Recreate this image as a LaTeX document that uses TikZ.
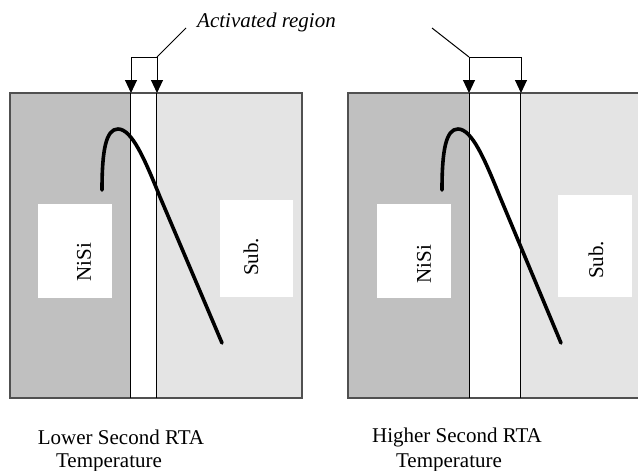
\documentclass[tikz,border=0pt]{standalone}
\usepackage{fontspec}
\setmainfont{Liberation Serif}
\usetikzlibrary{arrows.meta}
\definecolor{nisi}{HTML}{C0C0C0}
\definecolor{sub}{HTML}{E4E4E4}
\definecolor{frame}{HTML}{505050}

\begin{document}
\begin{tikzpicture}[x=1pt,y=-1pt,
    lbl/.style={font=\fontsize{21}{23}\selectfont,inner sep=0pt},
    wbox/.style={fill=white,draw=none,inner sep=0pt},
    pin/.style={line width=1pt,-{Triangle[width=12pt,length=13pt]}},
    profile/.style={line width=3.6pt,line cap=round}]
  \useasboundingbox (0,0) rectangle (638,471);

  % left panel
  \fill[nisi] (10,93) rectangle (130,398);
  \fill[sub] (156,93) rectangle (302,398);
  \draw[frame,line width=1.5pt] (10,93) rectangle (302,398);
  \draw[line width=0.8pt] (130,93) -- (130,398);
  \draw[line width=0.8pt] (156,93) -- (156,398);

  \path
  (75,251) node[wbox,minimum width=74pt,minimum height=94pt](nisiboxl) {}
  (256.5,248.5) node[wbox,minimum width=73pt,minimum height=97pt](subboxl) {}
  (84,262) node[lbl,rotate=90](nisil) {NiSi}
  (251,257) node[lbl,rotate=90](subl) {Sub.}
  ;

  \draw[profile] (102,190) .. controls (102,150) and (106,129) .. (118,129)
    .. controls (132,129) and (145,160) .. (160,197) -- (222,343);

  \coordinate (al) at (131,57);
  \coordinate (bl) at (157,57);
  \coordinate (tl) at (186,28);
  \draw[pin] (bl) -- (al) -- (131,93);
  \draw[pin] (bl) -- (157,93);
  \draw[line width=1pt] (bl) -- (tl);
  \node[lbl,font=\fontsize{21}{23}\selectfont\itshape,anchor=west] (act) at (197,22) {Activated region};

  \node[lbl] (lowa) at (121,437) {Lower Second RTA};
  \node[lbl] (lowb) at (109,463) {Temperature};

  % right panel
  \fill[nisi] (348,93) rectangle (469,398);
  \fill[sub] (520,93) rectangle (638,398);
  \draw[frame,line width=1.5pt] (638,93) -- (348,93) -- (348,398) -- (638,398);
  \draw[line width=0.8pt] (469,93) -- (469,398);
  \draw[line width=0.8pt] (520,93) -- (520,398);

  \path
  (414,251) node[wbox,minimum width=74pt,minimum height=94pt](nisiboxr) {}
  (595,246) node[wbox,minimum width=74pt,minimum height=102pt](subboxr) {}
  (424,264) node[lbl,rotate=90](nisir) {NiSi}
  (596,260) node[lbl,rotate=90](subr) {Sub.}
  ;

  \draw[profile] (442,190) .. controls (442,150) and (446,129) .. (458,129)
    .. controls (472,129) and (485,160) .. (500,197) -- (561,343);

  \coordinate (ar) at (469,57);
  \coordinate (br) at (521,57);
  \coordinate (tr) at (432,28);
  \draw[pin] (ar) -- (469,93);
  \draw[pin] (ar) -- (br) -- (521,93);
  \draw[line width=1pt] (ar) -- (tr);

  \node[lbl] (higha) at (457,437) {Higher Second RTA};
  \node[lbl] (highb) at (449,463) {Temperature};
\end{tikzpicture}
\end{document}
